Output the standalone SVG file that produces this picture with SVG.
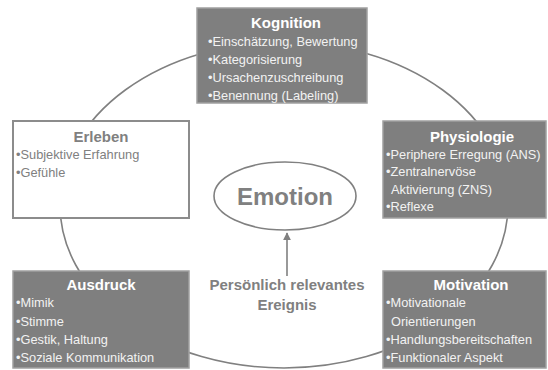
<svg xmlns="http://www.w3.org/2000/svg" width="548" height="370" viewBox="0 0 548 370">
<defs>
<style>
.box{fill:#7f7f7f;stroke:#a0a0a0;stroke-width:1.5}
.wbox{fill:#ffffff;stroke:#8c8c8c;stroke-width:2}
.t{font-family:"Liberation Sans",Arial,sans-serif;font-weight:bold;font-size:15px;fill:#ffffff;text-anchor:middle}
.b{font-family:"Liberation Sans",Arial,sans-serif;font-size:12.8px;fill:#f2f2f2}
.g{fill:#808080}
.line{fill:none;stroke:#808080;stroke-width:1.6}
</style>
<marker id="ah" viewBox="0 0 10 10" refX="9" refY="5" markerWidth="5" markerHeight="5" orient="auto">
<path d="M0,0 L10,5 L0,10 z" fill="#808080"/>
</marker>
</defs>
<rect width="548" height="370" fill="#ffffff"/>
<g id="connectors">
<ellipse class="line" cx="284" cy="205" rx="224" ry="163"/>
<line class="line" x1="287" y1="276" x2="287" y2="233" marker-end="url(#ah)"/>
</g>
<g id="emotion">
<ellipse cx="285" cy="196" rx="71" ry="34" fill="#ffffff" stroke="#808080" stroke-width="1.6"/>
<text x="285" y="205" font-family="Liberation Sans,Arial,sans-serif" font-weight="bold" font-size="24" fill="#808080" text-anchor="middle">Emotion</text>
</g>
<g id="ereignis">
<text class="t g" x="287" y="290">Persönlich relevantes</text>
<text class="t g" x="287" y="310">Ereignis</text>
</g>
<g id="kognition">
<rect class="box" x="197" y="8" width="170" height="95"/>
<text class="t" x="286" y="28">Kognition</text>
<text class="b" x="208" y="46">•Einschätzung, Bewertung</text>
<text class="b" x="208" y="64">•Kategorisierung</text>
<text class="b" x="208" y="82">•Ursachenzuschreibung</text>
<text class="b" x="208" y="100">•Benennung (Labeling)</text>
</g>
<g id="erleben">
<rect class="wbox" x="13" y="121" width="176" height="97"/>
<text class="t g" x="101" y="142">Erleben</text>
<text class="b g" x="16" y="159">•Subjektive Erfahrung</text>
<text class="b g" x="16" y="177">•Gefühle</text>
</g>
<g id="physiologie">
<rect class="box" x="383" y="121" width="163" height="97"/>
<text class="t" x="472" y="142">Physiologie</text>
<text class="b" x="386" y="159">•Periphere Erregung (ANS)</text>
<text class="b" x="386" y="176">•Zentralnervöse</text>
<text class="b" x="391" y="194">Aktivierung (ZNS)</text>
<text class="b" x="386" y="211">•Reflexe</text>
</g>
<g id="ausdruck">
<rect class="box" x="13" y="271" width="176" height="97"/>
<text class="t" x="101" y="290">Ausdruck</text>
<text class="b" x="16" y="307">•Mimik</text>
<text class="b" x="16" y="326">•Stimme</text>
<text class="b" x="16" y="344">•Gestik, Haltung</text>
<text class="b" x="16" y="362">•Soziale Kommunikation</text>
</g>
<g id="motivation">
<rect class="box" x="383" y="271" width="163" height="97"/>
<text class="t" x="471" y="290">Motivation</text>
<text class="b" x="386" y="307">•Motivationale</text>
<text class="b" x="391" y="326">Orientierungen</text>
<text class="b" x="386" y="344">•Handlungsbereitschaften</text>
<text class="b" x="386" y="362">•Funktionaler Aspekt</text>
</g>
</svg>
